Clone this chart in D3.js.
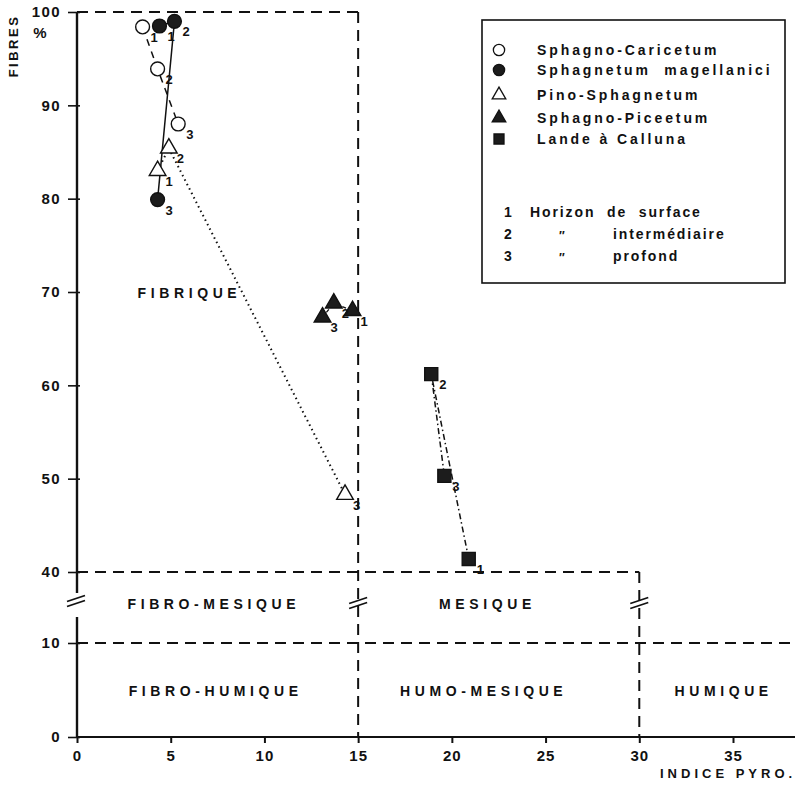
<!DOCTYPE html>
<html><head><meta charset="utf-8">
<script src="https://cdn.jsdelivr.net/npm/d3@7"></script>
<style>
html,body{margin:0;padding:0;background:#fff;}
svg text{font-family:"Liberation Sans",Arial,Helvetica,sans-serif;font-weight:bold;fill:#111;}
</style></head>
<body><svg id="c" width="795" height="785"></svg>
<script>
// ---------- data ----------
const horizons = ["1", "2", "3"];
const seriesNames = ["Sphagno-Caricetum", "Sphagnetum  magellanici", "Pino-Sphagnetum", "Sphagno-Piceetum", "Lande à Calluna"];
const caricetumX = [3.5, 4.3, 5.4];
const caricetumY = [98.4, 93.9, 88.0];
const magellaniciX = [4.4, 5.2, 4.3];
const magellaniciY = [98.5, 99.0, 79.9];
const pinoX = [4.3, 4.9, 14.3];
const pinoY = [83.0, 85.4, 48.3];
const piceetumX = [14.7, 13.7, 13.1];
const piceetumY = [68.0, 68.8, 67.3];
const callunaX = [20.9, 18.9, 19.6];
const callunaY = [41.4, 61.2, 50.3];
const xTicks = [0, 5, 10, 15, 20, 25, 30, 35];
const yTicksHigh = [40, 50, 60, 70, 80, 90, 100];
const yTicksLow = [0, 10];
const zoneNames = ["FIBRIQUE", "FIBRO-MESIQUE", "MESIQUE", "FIBRO-HUMIQUE", "HUMO-MESIQUE", "HUMIQUE"];
const horizonNotes = ["Horizon  de  surface", "intermédiaire", "profond"];

// ---------- layout ----------
const svg = d3.select("#c");
const x = d3.scaleLinear().domain([0, 35]).range([77, 733]);
const yH = d3.scaleLinear().domain([40, 100]).range([572, 12]);
const yL = d3.scaleLinear().domain([0, 10]).range([737, 643]);
const breakY = 603;

const dash = "11,7";
const g = svg.append("g");

function dl(x1, y1, x2, y2, da) {
  g.append("line").attr("x1", x1).attr("y1", y1).attr("x2", x2).attr("y2", y2)
    .attr("stroke", "#111").attr("stroke-width", 2).attr("stroke-dasharray", da || dash);
}
dl(x(0), yH(100), x(15), yH(100));
dl(x(15), yH(100), x(15), yL(0));
dl(x(0), yH(40), x(30), yH(40));
dl(x(30), yH(40), x(30), yL(0));
dl(x(0), yL(10), 795, yL(10));

// axes
const axX = d3.axisBottom(x).tickValues(xTicks).tickSize(6).tickPadding(5);
const gx = svg.append("g").attr("transform", `translate(0,${yL(0)})`).call(axX);
gx.select(".domain").remove();
gx.selectAll("line").attr("stroke", "#111").attr("stroke-width", 2);
gx.selectAll("text").style("font-size", "15px").style("letter-spacing", "1px").attr("fill", "#111").attr("dy", "0.85em");
svg.append("line").attr("x1", x(0)).attr("x2", 795).attr("y1", yL(0)).attr("y2", yL(0)).attr("stroke", "#111").attr("stroke-width", 2.2);

function yAxis(scale, ticks) {
  const a = d3.axisLeft(scale).tickValues(ticks).tickSize(8).tickPadding(6);
  const ga = svg.append("g").attr("transform", `translate(${x(0)},0)`).call(a);
  ga.select(".domain").remove();
  ga.selectAll("line").attr("stroke", "#111").attr("stroke-width", 1.6).attr("x2", -9).attr("x1", 3);
  ga.selectAll("text").style("font-size", "15px").style("letter-spacing", "1.4px").attr("fill", "#111").attr("x", -16);
}
yAxis(yH, yTicksHigh);
yAxis(yL, yTicksLow);
svg.append("line").attr("x1", x(0)).attr("x2", x(0)).attr("y1", yH(100)).attr("y2", breakY - 10).attr("stroke", "#111").attr("stroke-width", 2.4);
svg.append("line").attr("x1", x(0)).attr("x2", x(0)).attr("y1", breakY + 14).attr("y2", yL(0)).attr("stroke", "#111").attr("stroke-width", 2.4);

// break marks
function brk(cx, cy) {
  [-2.5, 2.5].forEach(o => {
    svg.append("line").attr("x1", cx - 9).attr("y1", cy + 3 + o).attr("x2", cx + 9).attr("y2", cy - 3 + o)
      .attr("stroke", "#111").attr("stroke-width", 1.8);
  });
}
brk(x(0) - 1, breakY - 2);
brk(x(15), breakY);
brk(x(30), breakY);

// axis titles
svg.append("text").attr("transform", "translate(18,46) rotate(-90)").attr("text-anchor", "middle")
  .style("font-size", "13px").style("letter-spacing", "2.5px").text("FIBRES");
svg.append("text").attr("x", 40).attr("y", 38).attr("text-anchor", "middle").style("font-size", "15px").text("%");
svg.append("text").attr("x", 660).attr("y", 778).style("font-size", "13px").style("letter-spacing", "4px").text("INDICE  PYRO.");

// zone labels
const zoneAnchors = [[6.0, yH(69.4)], [7.3, breakY + 6], [21.9, breakY + 6], [7.4, yL(4.4)], [21.7, yL(4.4)], [34.5, yL(4.4)]];
zoneNames.forEach((t, i) => {
  svg.append("text").attr("x", x(zoneAnchors[i][0])).attr("y", zoneAnchors[i][1]).attr("text-anchor", "middle")
    .style("font-size", "14px").style("letter-spacing", "4.6px").text(t);
});

// ---------- series ----------
const series = [
  { xs: caricetumX, ys: caricetumY, shape: "circle", fill: "#fff", dash: "7,6", width: 1.5 },
  { xs: magellaniciX, ys: magellaniciY, shape: "circle", fill: "#1c1c1c", dash: null, width: 1.5 },
  { xs: pinoX, ys: pinoY, shape: "triangle", fill: "#fff", dash: "1.5,3.5", width: 2 },
  { xs: piceetumX, ys: piceetumY, shape: "triangle", fill: "#1c1c1c", dash: "4,3", width: 1.3 },
  { xs: callunaX, ys: callunaY, shape: "square", fill: "#1c1c1c", dash: "6,3,1.5,3", width: 1.5 },
];
const line = d3.line().x(d => x(d[0])).y(d => yH(d[1]));
const sym = {
  circle: d3.symbol().type(d3.symbolCircle).size(150),
  triangle: d3.symbol().type(d3.symbolTriangle).size(120),
  square: d3.symbol().type(d3.symbolSquare).size(170),
};
series.forEach(s => {
  const pts = s.xs.map((v, i) => [v, s.ys[i]]);
  svg.append("path").attr("d", line(pts)).attr("fill", "none").attr("stroke", "#111")
    .attr("stroke-width", s.width).attr("stroke-dasharray", s.dash);
});
series.forEach(s => {
  s.xs.forEach((v, i) => {
    svg.append("path").attr("d", sym[s.shape]()).attr("transform", `translate(${x(v)},${yH(s.ys[i])})`)
      .attr("fill", s.fill).attr("stroke", "#111").attr("stroke-width", 1.4);
    svg.append("text").attr("x", x(v) + 8).attr("y", yH(s.ys[i]) + 15)
      .style("font-size", "13px").text(horizons[i]);
  });
});

// ---------- legend ----------
const lg = svg.append("g");
lg.append("rect").attr("x", 482).attr("y", 20).attr("width", 303).attr("height", 263)
  .attr("fill", "none").attr("stroke", "#111").attr("stroke-width", 1.6);
const legRows = [50, 70, 95, 118, 139];
series.forEach((s, i) => {
  lg.append("path").attr("d", d3.symbol().type(s.shape === "circle" ? d3.symbolCircle : s.shape === "triangle" ? d3.symbolTriangle : d3.symbolSquare).size(s.shape === "triangle" ? 80 : 100)())
    .attr("transform", `translate(499,${legRows[i]})`).attr("fill", s.fill).attr("stroke", "#111").attr("stroke-width", 1.3);
  lg.append("text").attr("x", 537).attr("y", legRows[i] + 5).style("font-size", "14px")
    .style("letter-spacing", "2.9px").style("white-space", "pre").text(seriesNames[i]);
});
const hRows = [212, 234, 256];
horizons.forEach((h, i) => {
  lg.append("text").attr("x", 508).attr("y", hRows[i] + 5).attr("text-anchor", "middle").style("font-size", "14px").text(h);
  if (i > 0) lg.append("text").attr("x", 559).attr("y", hRows[i] + 6).style("font-size", "12px").text("\u2033");
  lg.append("text").attr("x", i === 0 ? 530 : 613).attr("y", hRows[i] + 5).style("font-size", "14px")
    .style("letter-spacing", "1.9px").style("white-space", "pre").text(horizonNotes[i]);
});
</script></body></html>
